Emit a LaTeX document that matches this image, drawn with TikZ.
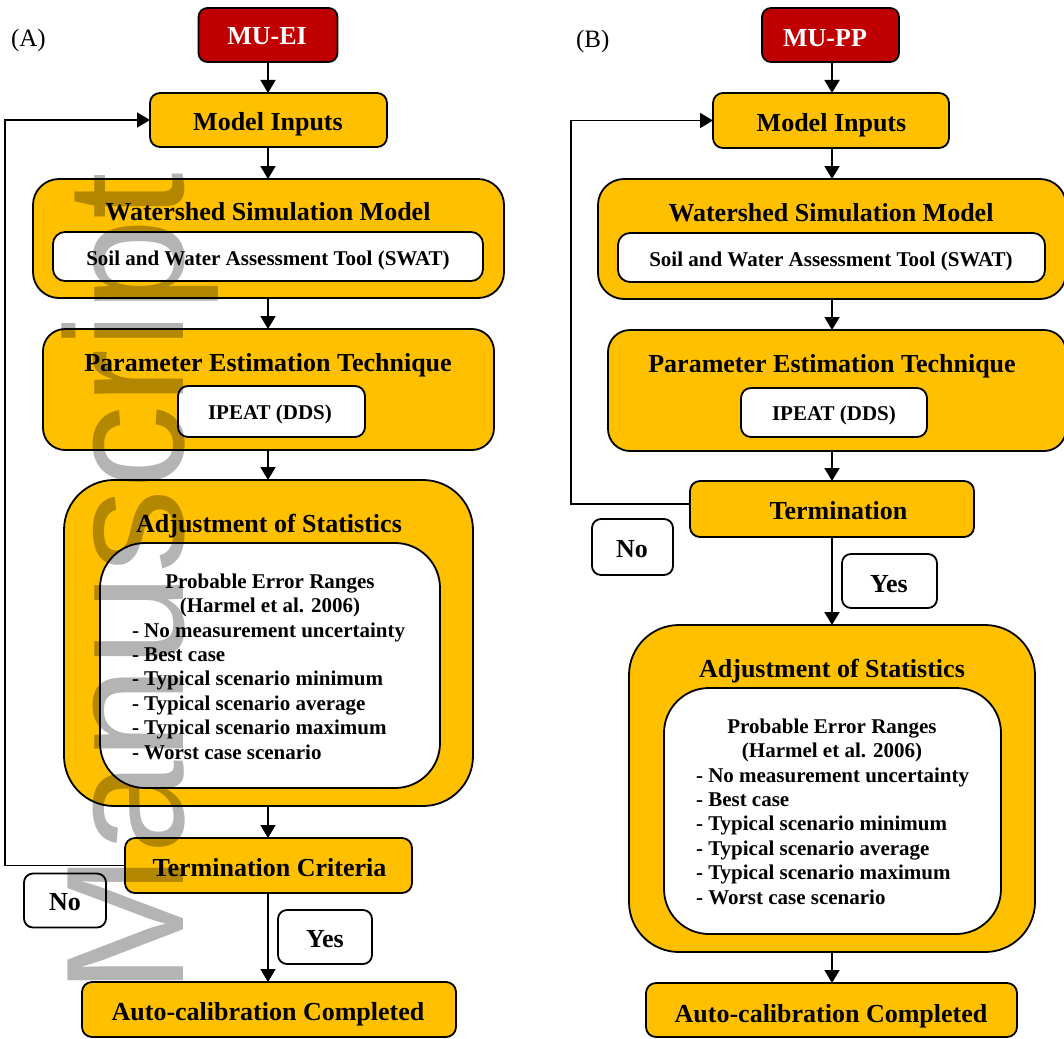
\documentclass[tikz,border=0pt]{standalone}
\usepackage{fontspec}
\setmainfont{Liberation Serif}
\newfontfamily\wmfont{Liberation Sans}
\usetikzlibrary{arrows.meta}
\definecolor{boxyellow}{HTML}{FFC000}
\definecolor{mured}{HTML}{C00000}
\definecolor{wmgray}{RGB}{180,180,180}
\begin{document}
\begin{tikzpicture}[x=1pt,y=-1pt,
  every node/.style={inner sep=0pt, outer sep=0pt},
  ybox/.style={draw=black, line width=1.8pt, fill=boxyellow},
  wbox/.style={draw=black, line width=1.8pt, fill=white},
  rbox/.style={draw=black, line width=1.8pt, fill=mured, rounded corners=9pt},
  ttl/.style={font=\fontsize{26}{26}\selectfont\bfseries, anchor=base},
  sub/.style={font=\fontsize{21}{21}\selectfont\bfseries, anchor=base},
  lst/.style={font=\fontsize{21}{21}\selectfont\bfseries, anchor=base west},
  lbl/.style={font=\fontsize{25}{25}\selectfont, anchor=base west},
  flow/.style={line width=1.8pt, -{Triangle[width=15pt,length=13pt]}},
]
\useasboundingbox (0,0) rectangle (1064,1038);
\clip (0,0) rectangle (1064,1038);

% ---------------- Panel A ----------------
\node[lbl] (Alab) at (11,47) {(A)};
\node[rbox, minimum width=139pt, minimum height=54pt] (Amu) at (268,35) {};
\node[ttl, text=white] (AmuT) at (267,45) {MU-EI};

\node[ybox, rounded corners=10pt, minimum width=237pt, minimum height=54pt] (Ain) at (268.5,120) {};
\node[ttl] (AinT) at (268,130) {Model Inputs};

\node[ybox, rounded corners=26pt, minimum width=471pt, minimum height=119pt] (Aws) at (268.5,238.5) {};
\node[ttl] (AwsT) at (268,220) {Watershed Simulation Model};
\node[wbox, rounded corners=12pt, minimum width=430pt, minimum height=49pt] (Asw) at (268,256.5) {};
\node[sub] (AswT) at (268,265) {Soil and Water Assessment Tool (SWAT)};

\node[ybox, rounded corners=22pt, minimum width=451pt, minimum height=121pt] (Ape) at (268.5,389.5) {};
\node[ttl] (ApeT) at (268,371) {Parameter Estimation Technique};
\node[wbox, rounded corners=10pt, minimum width=187pt, minimum height=51pt] (Aip) at (271.5,411.5) {};
\node[sub] (AipT) at (270,419) {IPEAT (DDS)};

\node[ybox, rounded corners=50pt, minimum width=409pt, minimum height=326pt] (Aas) at (268.5,643) {};
\node[ttl] (AasT) at (269,532) {Adjustment of Statistics};
\node[wbox, rounded corners=45pt, minimum width=340pt, minimum height=245pt] (Aer) at (270,665.5) {};
\node[sub] (Aer1) at (270,588) {Probable Error Ranges};
\node[sub] (Aer2) at (270,612) {(Harmel et al. 2006)};
\node[lst] (Al1) at (132,637) {- No measurement uncertainty};
\node[lst] (Al2) at (132,661.4) {- Best case};
\node[lst] (Al3) at (132,685.8) {- Typical scenario minimum};
\node[lst] (Al4) at (132,710.2) {- Typical scenario average};
\node[lst] (Al5) at (132,734.6) {- Typical scenario maximum};
\node[lst] (Al6) at (132,759) {- Worst case scenario};

\node[ybox, rounded corners=10pt, minimum width=287pt, minimum height=55pt] (Atc) at (268.5,865.5) {};
\node[ttl] (AtcT) at (269.5,876) {Termination Criteria};

\node[wbox, rounded corners=9pt, minimum width=82pt, minimum height=54pt] (Ano) at (65,900.5) {};
\node[ttl] (AnoT) at (65,910) {No};
\node[wbox, rounded corners=9pt, minimum width=94pt, minimum height=54pt] (Ayes) at (325,937) {};
\node[ttl] (AyesT) at (325,947) {Yes};

\node[ybox, rounded corners=10pt, minimum width=374pt, minimum height=55pt] (Aac) at (269,1009.5) {};
\node[ttl] (AacT) at (268,1020) {Auto-calibration Completed};

\coordinate (Ax) at (268,0);
\draw[flow] (Amu.south -| Ax) -- (Ain.north -| Ax);
\draw[flow] (Ain.south -| Ax) -- (Aws.north -| Ax);
\draw[flow] (Aws.south -| Ax) -- (Ape.north -| Ax);
\draw[flow] (Ape.south -| Ax) -- (Aas.north -| Ax);
\draw[flow] (Aas.south -| Ax) -- (Atc.north -| Ax);
\draw[flow] (Atc.south -| Ax) -- (Aac.north -| Ax);
\coordinate (AL) at (5,864);
\draw[flow] (Atc.west) -- (Atc.west -| AL) |- (Ain.west);

% ---------------- Panel B ----------------
\node[lbl] (Blab) at (576,48) {(B)};
\node[rbox, minimum width=137pt, minimum height=54pt] (Bmu) at (830.5,35) {};
\node[ttl, text=white] (BmuT) at (825,47) {MU-PP};

\node[ybox, rounded corners=10pt, minimum width=236pt, minimum height=55pt] (Bin) at (831,120.5) {};
\node[ttl] (BinT) at (831.5,131) {Model Inputs};

\node[ybox, rounded corners=26pt, minimum width=468pt, minimum height=120pt] (Bws) at (832,239) {};
\node[ttl] (BwsT) at (831,221) {Watershed Simulation Model};
\node[wbox, rounded corners=12pt, minimum width=427pt, minimum height=49pt] (Bsw) at (831.5,257.5) {};
\node[sub] (BswT) at (831,266) {Soil and Water Assessment Tool (SWAT)};

\node[ybox, rounded corners=22pt, minimum width=458pt, minimum height=121pt] (Bpe) at (837,390.5) {};
\node[ttl] (BpeT) at (832,372) {Parameter Estimation Technique};
\node[wbox, rounded corners=10pt, minimum width=186pt, minimum height=49pt] (Bip) at (834,412.5) {};
\node[sub] (BipT) at (834,420) {IPEAT (DDS)};

\node[ybox, rounded corners=10pt, minimum width=284pt, minimum height=56pt] (Btm) at (832,509) {};
\node[ttl] (BtmT) at (838.5,519) {Termination};

\node[wbox, rounded corners=9pt, minimum width=81pt, minimum height=56pt] (Bno) at (632.5,547) {};
\node[ttl] (BnoT) at (632,557) {No};
\node[wbox, rounded corners=9pt, minimum width=95pt, minimum height=54pt] (Byes) at (889.5,581) {};
\node[ttl] (ByesT) at (889,592) {Yes};

\node[ybox, rounded corners=50pt, minimum width=406pt, minimum height=327pt] (Bas) at (832,788.5) {};
\node[ttl] (BasT) at (832,677) {Adjustment of Statistics};
\node[wbox, rounded corners=45pt, minimum width=337pt, minimum height=246pt] (Ber) at (832.5,811) {};
\node[sub] (Ber1) at (832,733) {Probable Error Ranges};
\node[sub] (Ber2) at (832,757) {(Harmel et al. 2006)};
\node[lst] (Bl1) at (696,782) {- No measurement uncertainty};
\node[lst] (Bl2) at (696,806.4) {- Best case};
\node[lst] (Bl3) at (696,830.8) {- Typical scenario minimum};
\node[lst] (Bl4) at (696,855.2) {- Typical scenario average};
\node[lst] (Bl5) at (696,879.6) {- Typical scenario maximum};
\node[lst] (Bl6) at (696,904) {- Worst case scenario};

\node[ybox, rounded corners=10pt, minimum width=371pt, minimum height=54pt] (Bac) at (831.5,1010) {};
\node[ttl] (BacT) at (831,1022) {Auto-calibration Completed};

\coordinate (Bx) at (832,0);
\draw[flow] (Bmu.south -| Bx) -- (Bin.north -| Bx);
\draw[flow] (Bin.south -| Bx) -- (Bws.north -| Bx);
\draw[flow] (Bws.south -| Bx) -- (Bpe.north -| Bx);
\draw[flow] (Bpe.south -| Bx) -- (Btm.north -| Bx);
\draw[flow] (Btm.south -| Bx) -- (Bas.north -| Bx);
\draw[flow] (Bas.south -| Bx) -- (Bac.north -| Bx);
\coordinate (BL) at (571,504);
\draw[flow] (Btm.west |- BL) -- (BL) |- (Bin.west);

% ---------------- Watermark ----------------
\begin{scope}[blend mode=multiply]
\node[rotate=90, anchor=base west, text=wmgray, font=\wmfont\fontsize{168}{168}\selectfont] (wm) at (183,994) {Manuscript};
\end{scope}
\end{tikzpicture}
\end{document}
